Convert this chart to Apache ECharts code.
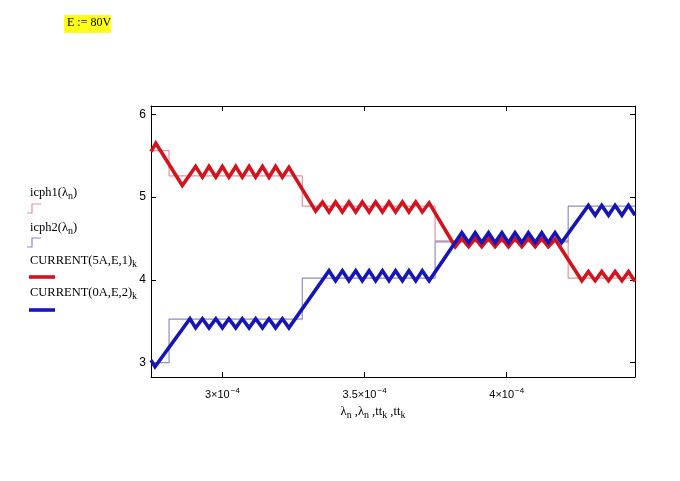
<!DOCTYPE html>
<html lang="en">
<head>
    <meta charset="UTF-8">
    <title>CURRENT vs lambda (E = 80V)</title>
    <script src="https://cdn.jsdelivr.net/npm/echarts@6.0.0/dist/echarts.min.js"></script>
    <style>
        html, body { margin: 0; padding: 0; background: #fff; }
        #chart { width: 680px; height: 481px; }
    </style>
</head>
<body>
    <div id="chart"></div>
    <script>
        // x values are in units of 1e-4
        const xTicks = [3, 3.5, 4];
        const yTicks = [3, 4, 5, 6];

        // step functions icph1 / icph2
        const icphX = [2.749, 2.8125, 3.281, 3.748, 4.216, 4.451];
        const icph1Y = [5.56, 5.255, 4.89, 4.47, 4.02, 4.02];
        const icph2Y = [3.0, 3.525, 4.02, 4.46, 4.89, 4.89];

        // CURRENT(5A,E,1)k
        const redX = [2.749, 2.766, 2.859, 2.906, 2.930, 2.953, 2.977, 3.000, 3.023, 3.047, 3.070, 3.094, 3.117, 3.141, 3.164, 3.187, 3.211, 3.234,
            3.328, 3.352, 3.375, 3.398, 3.422, 3.445, 3.469, 3.492, 3.516, 3.539, 3.563, 3.586, 3.609, 3.633, 3.656, 3.680, 3.703, 3.727,
            3.819, 3.842, 3.866, 3.889, 3.912, 3.936, 3.959, 3.983, 4.006, 4.029, 4.053, 4.076, 4.100, 4.123, 4.146, 4.170,
            4.264, 4.287, 4.311, 4.334, 4.358, 4.381, 4.405, 4.428, 4.451];
        const redY = [5.55, 5.65, 5.14, 5.37, 5.24, 5.37, 5.24, 5.37, 5.24, 5.37, 5.24, 5.37, 5.24, 5.37, 5.24, 5.37, 5.24, 5.36,
            4.83, 4.94, 4.82, 4.94, 4.82, 4.94, 4.82, 4.94, 4.82, 4.94, 4.82, 4.94, 4.82, 4.94, 4.82, 4.94, 4.82, 4.93,
            4.40, 4.50, 4.40, 4.50, 4.40, 4.50, 4.40, 4.50, 4.40, 4.50, 4.40, 4.50, 4.40, 4.50, 4.40, 4.49,
            3.99, 4.10, 3.99, 4.10, 3.99, 4.10, 3.99, 4.10, 3.98];

        // CURRENT(0A,E,2)k
        const blueX = [2.749, 2.763, 2.886, 2.906, 2.930, 2.953, 2.977, 3.000, 3.023, 3.047, 3.070, 3.094, 3.117, 3.141, 3.164, 3.187, 3.211, 3.234,
            3.375, 3.398, 3.422, 3.445, 3.469, 3.492, 3.516, 3.539, 3.563, 3.586, 3.609, 3.633, 3.656, 3.680, 3.703, 3.727,
            3.842, 3.866, 3.889, 3.912, 3.936, 3.959, 3.983, 4.006, 4.029, 4.053, 4.076, 4.100, 4.123, 4.146, 4.170, 4.193,
            4.287, 4.311, 4.334, 4.358, 4.381, 4.405, 4.428, 4.451];
        const blueY = [3.03, 2.95, 3.53, 3.42, 3.53, 3.42, 3.53, 3.42, 3.53, 3.42, 3.53, 3.42, 3.53, 3.42, 3.53, 3.42, 3.53, 3.42,
            4.11, 3.99, 4.11, 3.99, 4.11, 3.99, 4.11, 3.99, 4.11, 3.99, 4.11, 3.99, 4.11, 3.99, 4.11, 3.99,
            4.57, 4.45, 4.57, 4.45, 4.57, 4.45, 4.57, 4.45, 4.57, 4.45, 4.57, 4.45, 4.57, 4.45, 4.57, 4.45,
            4.90, 4.78, 4.90, 4.78, 4.90, 4.78, 4.90, 4.78];

        const RED = '#d3141e';
        const PINK = '#e2939c';
        const BLUE = '#1616b8';
        const LBLUE = '#8c8cc8';
        const SERIF = '"Liberation Serif", "DejaVu Serif", serif';
        const SANS = '"Liberation Sans", Arial, sans-serif';

        function zip(xs, ys) {
            return xs.map((x, i) => [x, ys[i]]);
        }

        const chart = echarts.init(document.getElementById('chart'));

        const frameAxis = {
            type: 'value',
            axisLine: { show: true, onZero: false, lineStyle: { color: '#000', width: 1 } },
            splitLine: { show: false }
        };

        const subRich = {
            t: { font: '12.5px ' + SERIF, fill: '#000' },
            s: { font: '10px ' + SERIF, fill: '#000', padding: [6, 0, 0, 0] }
        };

        const option = {
            backgroundColor: '#fff',
            animation: false,
            grid: { left: 151, right: 45, top: 106, bottom: 104 },
            xAxis: [
                Object.assign({}, frameAxis, {
                    min: 2.749, max: 4.451, position: 'bottom',
                    axisTick: { inside: true, length: 5, customValues: xTicks, lineStyle: { color: '#000' } },
                    axisLabel: {
                        customValues: xTicks,
                        margin: 10,
                        color: '#000',
                        formatter: v => '{a|' + v + '×10}{sup|−4}',
                        rich: {
                            a: { fontFamily: SANS, fontSize: 11, color: '#000' },
                            sup: { fontFamily: SANS, fontSize: 8, color: '#000', padding: [0, 0, 8, 1] }
                        }
                    }
                }),
                Object.assign({}, frameAxis, {
                    min: 2.749, max: 4.451, position: 'top',
                    axisTick: { inside: true, length: 5, customValues: xTicks, lineStyle: { color: '#000' } },
                    axisLabel: { show: false }
                })
            ],
            yAxis: [
                Object.assign({}, frameAxis, {
                    min: 2.827, max: 6.1, position: 'left',
                    axisTick: { inside: true, length: 5, customValues: yTicks, lineStyle: { color: '#000' } },
                    axisLabel: { customValues: yTicks, margin: 5, color: '#000', fontFamily: SANS, fontSize: 12 }
                }),
                Object.assign({}, frameAxis, {
                    min: 2.827, max: 6.1, position: 'right',
                    axisTick: { inside: true, length: 5, customValues: yTicks, lineStyle: { color: '#000' } },
                    axisLabel: { show: false }
                })
            ],
            series: [
                {
                    name: 'icph1', type: 'line', step: 'end', showSymbol: false,
                    data: zip(icphX, icph1Y),
                    lineStyle: { color: PINK, width: 1.2 }
                },
                {
                    name: 'icph2', type: 'line', step: 'end', showSymbol: false,
                    data: zip(icphX, icph2Y),
                    lineStyle: { color: LBLUE, width: 1.2 }
                },
                {
                    name: 'CURRENT(5A,E,1)', type: 'line', showSymbol: false,
                    data: zip(redX, redY),
                    lineStyle: { color: RED, width: 3.6, join: 'miter' }
                },
                {
                    name: 'CURRENT(0A,E,2)', type: 'line', showSymbol: false,
                    data: zip(blueX, blueY),
                    lineStyle: { color: BLUE, width: 3.6, join: 'miter' }
                }
            ],
            graphic: [
                // E := 80V box
                {
                    type: 'rect', left: 64, top: 15,
                    shape: { width: 47, height: 18 },
                    style: { fill: '#ffff1a' }
                },
                {
                    type: 'text', left: 67, top: 17,
                    style: { text: 'E := 80V', font: '12px ' + SERIF, fill: '#000' }
                },
                // legend
                {
                    type: 'text', x: 30, y: 193,
                    style: { text: '{t|icph1(λ}{s|n}{t|)}', verticalAlign: 'middle', rich: subRich }
                },
                {
                    type: 'polyline',
                    shape: { points: [[27, 213], [32, 213], [32, 204], [41, 204]] },
                    style: { stroke: PINK, lineWidth: 1.2, fill: null }
                },
                {
                    type: 'text', x: 30, y: 228,
                    style: { text: '{t|icph2(λ}{s|n}{t|)}', verticalAlign: 'middle', rich: subRich }
                },
                {
                    type: 'polyline',
                    shape: { points: [[27, 247], [32, 247], [32, 238], [41, 238]] },
                    style: { stroke: LBLUE, lineWidth: 1.2, fill: null }
                },
                {
                    type: 'text', x: 30, y: 261,
                    style: { text: '{t|CURRENT(5A,E,1)}{s|k}', verticalAlign: 'middle', rich: subRich }
                },
                {
                    type: 'line',
                    shape: { x1: 29, y1: 277, x2: 55, y2: 277 },
                    style: { stroke: RED, lineWidth: 3.6 }
                },
                {
                    type: 'text', x: 30, y: 293,
                    style: { text: '{t|CURRENT(0A,E,2)}{s|k}', verticalAlign: 'middle', rich: subRich }
                },
                {
                    type: 'line',
                    shape: { x1: 29, y1: 310, x2: 55, y2: 310 },
                    style: { stroke: BLUE, lineWidth: 3.6 }
                },
                // x axis title
                {
                    type: 'text', x: 373, y: 412,
                    style: {
                        text: '{t|λ}{s|n}{t| ,λ}{s|n}{t| ,tt}{s|k}{t| ,tt}{s|k}',
                        align: 'center', verticalAlign: 'middle',
                        rich: subRich
                    }
                }
            ]
        };

        chart.setOption(option);
    </script>
</body>
</html>
